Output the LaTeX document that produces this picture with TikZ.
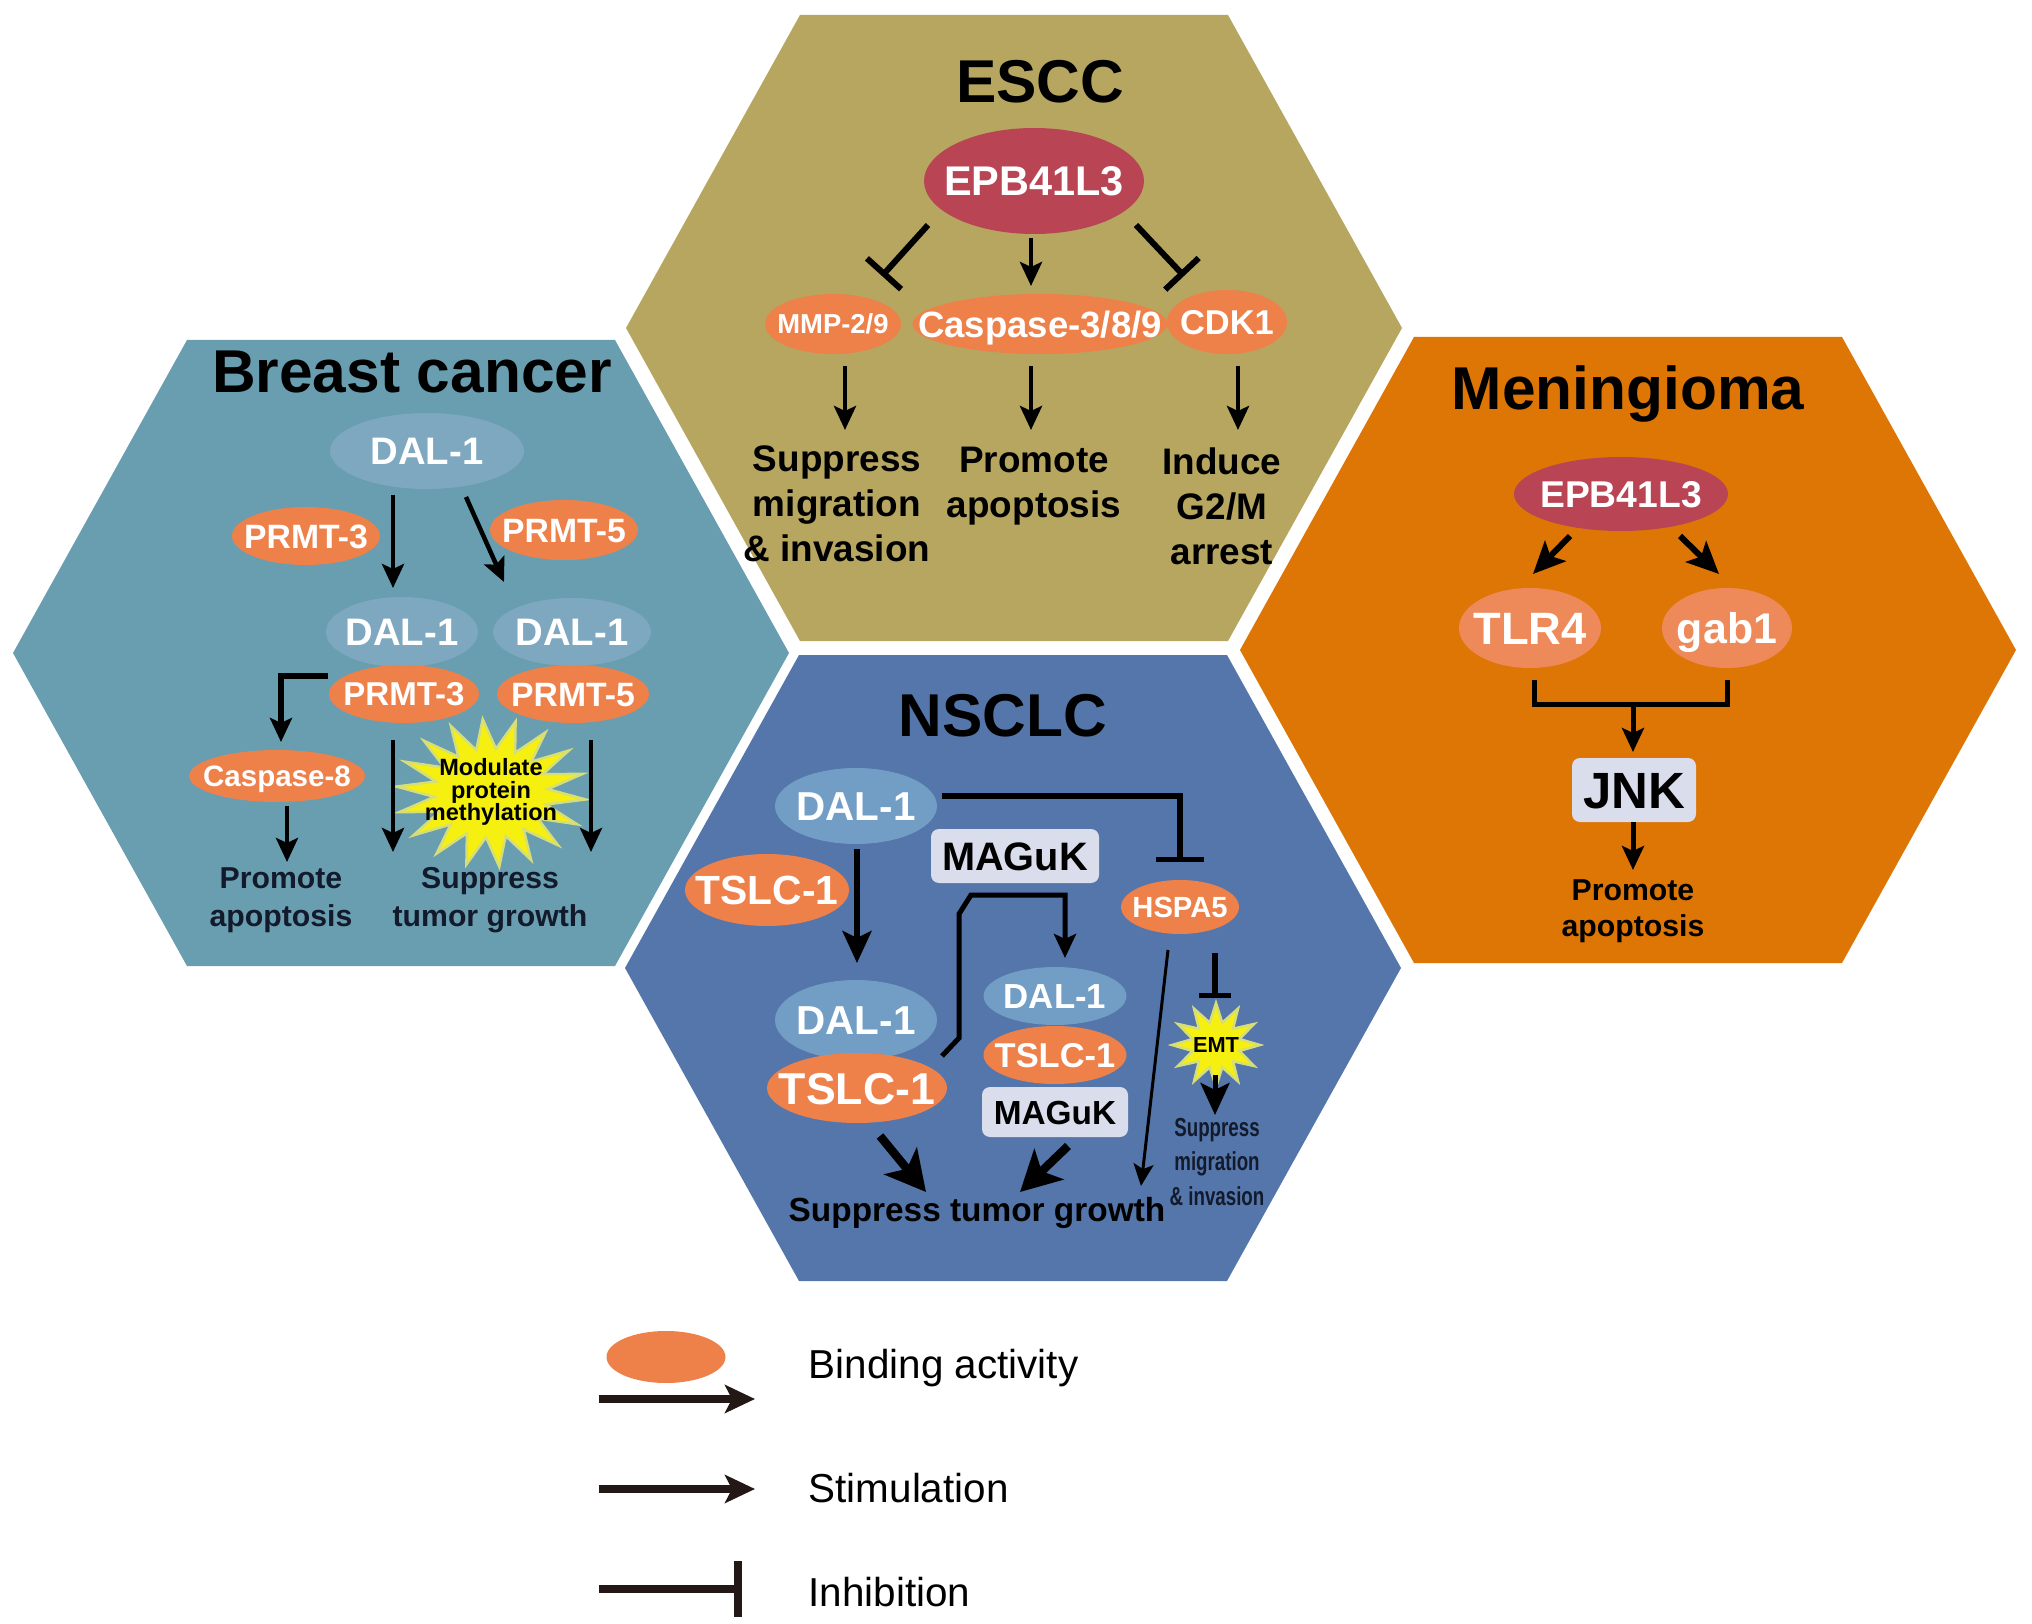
\documentclass[tikz,border=0pt]{standalone}
\usepackage{fontspec}
\setmainfont{Liberation Sans}
\newfontfamily\condfont{Liberation Sans}[FakeStretch=0.72]
\usetikzlibrary{shapes.geometric,arrows.meta}
\definecolor{hteal}{RGB}{104,158,176}
\definecolor{holive}{RGB}{182,166,96}
\definecolor{hblue}{RGB}{84,118,170}
\definecolor{horange}{RGB}{222,118,6}
\definecolor{ellor}{RGB}{238,128,74}
\definecolor{ellorl}{RGB}{238,138,90}
\definecolor{epbred}{RGB}{184,68,84}
\definecolor{dalb}{RGB}{126,168,192}
\definecolor{daln}{RGB}{114,157,196}
\definecolor{boxc}{RGB}{218,221,236}
\definecolor{burstc}{RGB}{245,240,15}
\definecolor{burste}{RGB}{215,222,120}
\definecolor{navy}{RGB}{18,26,44}
\definecolor{legk}{RGB}{35,24,21}
\newcommand\fz[2]{\fontsize{#1}{#2}\selectfont\bfseries}
\newcommand\zt[1]{\makebox[0pt]{\raisebox{-0.36em}[0pt][0pt]{#1}}}
\newcommand\hexa[3]{\fill[#3,shift={(#1,#2)}] (-388,0) -- (-214,-313) -- (214,-313) -- (388,0) -- (214,313) -- (-214,313) -- cycle;}
\newcommand\burst[7]{\fill[burstc,draw=burste,line width=0.25mm] plot[variable=\t,samples at={0,...,#5}] ({#1+#3*(1-(1-#6)*mod(\t,2))*cos(\t*360/(#5+1)+#7)},{#2+#4*(1-(1-#6)*mod(\t,2))*sin(\t*360/(#5+1)+#7)}) -- cycle;}
\begin{document}
\begin{tikzpicture}[x=0.1mm,y=-0.1mm,
  ell/.style={ellipse,inner sep=0pt,text=white},
  bx/.style={rectangle,rounded corners=0.8mm,fill=boxc,inner sep=0pt,text=black},
  arr/.style={line width=0.45mm,-{Stealth[length=2.4mm,width=2.2mm,inset=0.5mm]}},
  midarr/.style={line width=0.55mm,-{Stealth[length=3.2mm,width=2.9mm,inset=0.7mm]}},
  bigarr/.style={line width=0.85mm,-{Stealth[length=4mm,width=4.2mm,inset=1mm]}},
  inh/.style={line width=0.6mm,-{Bar[width=4.6mm]}},
  lbl/.style={align=center,inner sep=0pt}]
\fill[white] (0,0) rectangle (2032,1624);
\useasboundingbox (0,0) rectangle (2032,1624);

% hexagons
\hexa{401}{653}{hteal}
\hexa{1014}{328}{holive}
\hexa{1013}{968}{hblue}
\hexa{1628}{650}{horange}

% ================= Breast cancer
\node[font=\fz{17.2}{20}] (bcT) at (412,372) {Breast cancer};
\node[ell,fill=dalb,minimum width=19.4mm,minimum height=7.6mm,font=\fz{10.9}{13}] (bD0) at (427,451) {\zt{DAL-1}};
\node[ell,fill=ellor,minimum width=14.8mm,minimum height=5.8mm,font=\fz{9.6}{11}] (bP3a) at (306,536) {\zt{PRMT-3}};
\node[ell,fill=ellor,minimum width=14.8mm,minimum height=6mm,font=\fz{9.6}{11}] (bP5a) at (564,530) {\zt{PRMT-5}};
\node[ell,fill=dalb,minimum width=15.2mm,minimum height=7mm,font=\fz{10.9}{13}] (bD1) at (402,632) {\zt{DAL-1}};
\node[ell,fill=dalb,minimum width=15.8mm,minimum height=6.8mm,font=\fz{10.9}{13}] (bD2) at (572,632) {\zt{DAL-1}};
\node[ell,fill=ellor,minimum width=15mm,minimum height=5.8mm,font=\fz{9.4}{11}] (bP3b) at (404,694) {\zt{PRMT-3}};
\node[ell,fill=ellor,minimum width=15.2mm,minimum height=5.8mm,font=\fz{9.6}{11}] (bP5b) at (573,694) {\zt{PRMT-5}};
\node[ell,fill=ellor,minimum width=17.6mm,minimum height=5.2mm,font=\fz{8.4}{10}] (bC8) at (277,776) {\zt{Caspase-8}};
\burst{491}{793}{95}{74}{35}{0.6}{5}
\node[lbl,font=\fz{6.7}{6.3}] (bMod) at (491,792) {Modulate\\protein\\methylation};
\node[lbl,font=\fz{8.6}{10.8},text=navy] (bPA) at (281,900) {Promote\\apoptosis};
\node[lbl,font=\fz{8.6}{10.8},text=navy] (bST) at (490,900) {Suppress\\tumor growth};
\coordinate (b1a) at (393,495); \coordinate (b1b) at (393,588);
\coordinate (b2a) at (466,497); \coordinate (b2b) at (504,582);
\coordinate (b3a) at (328,676); \coordinate (b3b) at (281,742);
\coordinate (b4a) at (287,806); \coordinate (b4b) at (287,862);
\coordinate (b5a) at (393,740); \coordinate (b5b) at (393,852);
\coordinate (b6a) at (591,740); \coordinate (b6b) at (591,852);
\draw[arr] (b1a) -- (b1b);
\draw[arr] (b2a) -- (b2b);
\draw[arr,line width=0.55mm] (b3a) -- (b3a -| b3b) -- (b3b);
\draw[arr] (b4a) -- (b4b);
\draw[arr] (b5a) -- (b5b);
\draw[arr] (b6a) -- (b6b);

% ================= ESCC
\node[font=\fz{17.2}{20}] (esT) at (1040,82) {ESCC};
\node[ell,fill=epbred,minimum width=22mm,minimum height=10.6mm,font=\fz{11.8}{14}] (eEPB) at (1034,181) {\zt{EPB41L3}};
\node[ell,fill=ellor,minimum width=13.6mm,minimum height=6mm,font=\fz{7.8}{9}] (eMMP) at (833,324) {\zt{MMP-2/9}};
\node[ell,fill=ellor,minimum width=25.5mm,minimum height=6mm,font=\fz{10.4}{12}] (eCas) at (1040,324) {\zt{Caspase-3/8/9}};
\node[ell,fill=ellor,minimum width=12mm,minimum height=6.4mm,font=\fz{9.8}{12}] (eCDK) at (1227,322) {\zt{CDK1}};
\node[lbl,font=\fz{10.5}{12.8}] (eSM) at (837,504) {Suppress\\migration\\\& invasion};
\node[lbl,font=\fz{10.5}{12.8}] (ePA) at (1034,486) {Promote\\apoptosis};
\node[lbl,font=\fz{10.5}{12.8}] (eIG) at (1222,506) {Induce\\G2/M\\arrest};
\coordinate (e1a) at (928,225); \coordinate (e1b) at (882,276);
\coordinate (e2a) at (1031,238); \coordinate (e2b) at (1031,286);
\coordinate (e3a) at (1136,225); \coordinate (e3b) at (1184,276);
\coordinate (e4a) at (845,366); \coordinate (e4b) at (845,430);
\coordinate (e5a) at (1031,366); \coordinate (e5b) at (1031,430);
\coordinate (e6a) at (1238,366); \coordinate (e6b) at (1238,430);
\draw[inh] (e1a) -- (e1b);
\draw[arr] (e2a) -- (e2b);
\draw[inh] (e3a) -- (e3b);
\draw[arr] (e4a) -- (e4b);
\draw[arr] (e5a) -- (e5b);
\draw[arr] (e6a) -- (e6b);

% ================= NSCLC
\node[font=\fz{17.2}{20}] (nsT) at (1003,716) {NSCLC};
\node[ell,fill=daln,minimum width=16.2mm,minimum height=7.6mm,font=\fz{11.5}{13}] (nD0) at (856,806) {\zt{DAL-1}};
\node[ell,fill=ellor,minimum width=16.4mm,minimum height=7.2mm,font=\fz{11.6}{13}] (nT0) at (767,890) {\zt{TSLC-1}};
\node[bx,minimum width=16.8mm,minimum height=5.4mm,font=\fz{11.3}{13}] (nM0) at (1015,856) {\zt{MAGuK}};
\node[ell,fill=daln,minimum width=16.2mm,minimum height=8mm,font=\fz{11.5}{13}] (nD1) at (856,1020) {\zt{DAL-1}};
\node[ell,fill=ellor,minimum width=18mm,minimum height=7mm,font=\fz{12.7}{14}] (nT1) at (857,1088) {\zt{TSLC-1}};
\node[ell,fill=daln,minimum width=14.3mm,minimum height=5.8mm,font=\fz{9.9}{12}] (nD2) at (1055,996) {\zt{DAL-1}};
\node[ell,fill=ellor,minimum width=14.3mm,minimum height=5.8mm,font=\fz{9.8}{12}] (nT2) at (1055,1055) {\zt{TSLC-1}};
\node[bx,minimum width=14.6mm,minimum height=5mm,font=\fz{9.5}{11}] (nM2) at (1055,1112) {\zt{MAGuK}};
\node[ell,fill=ellor,minimum width=11.8mm,minimum height=5.4mm,font=\fz{8.3}{10}] (nHS) at (1180,907) {\zt{HSPA5}};
\burst{1216}{1045}{44}{42}{23}{0.55}{0}
\node[font=\fz{6.2}{7}] (nEMT) at (1216,1045) {EMT};
\node[font=\fz{9.5}{11}] (nST) at (977,1213) {Suppress tumor growth};
\node[lbl,font={\condfont\fz{7.4}{9.7}},text=navy] (nSM) at (1217,1162) {Suppress\\migration\\\& invasion};
\coordinate (n1a) at (857,849); \coordinate (n1b) at (857,963);
\coordinate (n2a) at (942,1056); \coordinate (n2b) at (1065,958);
\coordinate (n3a) at (942,796); \coordinate (n3b) at (1180,862);
\coordinate (n4a) at (1168,950); \coordinate (n4b) at (1141,1186);
\coordinate (n5a) at (1215,953); \coordinate (n5b) at (1215,998);
\coordinate (n6a) at (1215,1075); \coordinate (n6b) at (1215,1115);
\coordinate (n7a) at (880,1136); \coordinate (n7b) at (926,1192);
\coordinate (n8a) at (1068,1146); \coordinate (n8b) at (1020,1192);
\draw[midarr] (n1a) -- (n1b);
\draw[arr,line width=0.5mm] (n2a) -- (959,1038) -- (959,914) -- (971,895) -- (1065,895) -- (n2b);
\draw[inh,line width=0.55mm,-{Bar[width=4.8mm]}] (n3a) -| (n3b);
\draw[line width=0.3mm,-{Stealth[length=2.2mm,width=2mm,inset=0.5mm]}] (n4a) -- (n4b);
\draw[line width=0.55mm,-{Bar[width=3.2mm]}] (n5a) -- (n5b);
\draw[midarr,line width=0.5mm] (n6a) -- (n6b);
\draw[bigarr] (n7a) -- (n7b);
\draw[bigarr] (n8a) -- (n8b);

% ================= Meningioma
\node[font=\fz{17.2}{20}] (mT) at (1628,394) {Meningioma};
\node[ell,fill=epbred,minimum width=21.4mm,minimum height=7.4mm,font=\fz{10.6}{12}] (mEPB) at (1621,494) {\zt{EPB41L3}};
\node[ell,fill=ellorl,minimum width=14.2mm,minimum height=8mm,font=\fz{12.9}{14}] (mTLR) at (1530,628) {\zt{TLR4}};
\node[ell,fill=ellorl,minimum width=13mm,minimum height=8mm,font=\fz{12.2}{14}] (mGab) at (1727,628) {\zt{gab1}};
\node[bx,minimum width=12.4mm,minimum height=6.4mm,font=\fz{14.5}{16}] (mJNK) at (1634,790) {\zt{JNK}};
\node[lbl,font=\fz{8.6}{10.2}] (mPA) at (1633,911) {Promote\\apoptosis};
\coordinate (m1a) at (1570,536); \coordinate (m1b) at (1533,574);
\coordinate (m2a) at (1680,536); \coordinate (m2b) at (1719,574);
\coordinate (m3a) at (1534,680); \coordinate (m3b) at (1727,680);
\coordinate (m4a) at (1633,704); \coordinate (m4b) at (1633,752);
\coordinate (m5a) at (1633,822); \coordinate (m5b) at (1633,870);
\draw[midarr,line width=0.6mm] (m1a) -- (m1b);
\draw[midarr,line width=0.6mm] (m2a) -- (m2b);
\draw[line width=0.5mm] (m3a) -- (1534,704) -- (1727,704) -- (m3b);
\draw[arr,line width=0.5mm] (m4a) -- (m4b);
\draw[arr,line width=0.5mm] (m5a) -- (m5b);

% ================= Legend
\node[ellipse,fill=ellor,minimum width=11.9mm,minimum height=5.2mm,inner sep=0pt] (lgE) at (666,1357) {};
\coordinate (l1a) at (599,1399); \coordinate (l1b) at (755,1399);
\coordinate (l2a) at (599,1489); \coordinate (l2b) at (755,1489);
\coordinate (l3a) at (599,1589); \coordinate (l3b) at (742,1589);
\draw[legk,line width=0.8mm,-{Stealth[length=3mm,width=2.8mm,inset=0.7mm]}] (l1a) -- (l1b);
\draw[legk,line width=0.8mm,-{Stealth[length=3mm,width=2.8mm,inset=0.7mm]}] (l2a) -- (l2b);
\draw[legk,line width=0.8mm,-{Bar[width=5.6mm]}] (l3a) -- (l3b);
\node[anchor=west,inner sep=0pt,font=\fontsize{11.5}{13}\selectfont] (lgT1) at (808,1368) {Binding activity};
\node[anchor=west,inner sep=0pt,font=\fontsize{11.5}{13}\selectfont] (lgT2) at (808,1488) {Stimulation};
\node[anchor=west,inner sep=0pt,font=\fontsize{11.5}{13}\selectfont] (lgT3) at (808,1592) {Inhibition};
\end{tikzpicture}
\end{document}
